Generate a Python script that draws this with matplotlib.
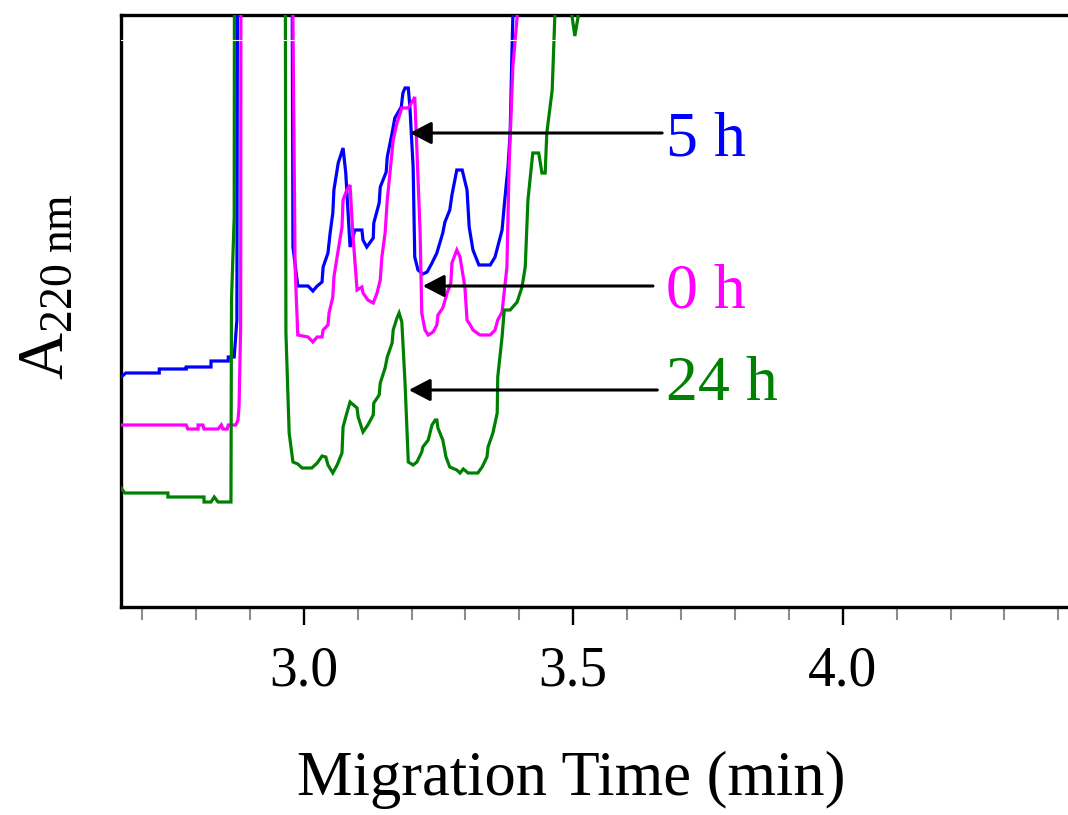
import matplotlib
matplotlib.use("Agg")
import matplotlib.pyplot as plt
from matplotlib.ticker import MultipleLocator, FormatStrFormatter

plt.rcParams["font.family"] = ["Liberation Serif", "DejaVu Serif"]
plt.rcParams["mathtext.fontset"] = "custom"
plt.rcParams["mathtext.rm"] = "Liberation Serif"
plt.rcParams["mathtext.it"] = "Liberation Serif:italic"

# electropherogram traces (time in min, absorbance in arbitrary units; 900 = off scale)
t_5h = [2.661, 2.670, 2.732, 2.732, 2.782, 2.782, 2.828, 2.828, 2.860, 2.860, 2.871, 2.876,
        2.878, 2.977, 2.980, 2.989, 3.008, 3.017, 3.025, 3.034, 3.036, 3.045, 3.049, 3.054,
        3.056, 3.064, 3.073, 3.078, 3.086, 3.095, 3.108, 3.110, 3.117, 3.129, 3.130, 3.140,
        3.142, 3.153, 3.155, 3.164, 3.169, 3.181, 3.184, 3.188, 3.194, 3.197, 3.203, 3.206,
        3.212, 3.221, 3.229, 3.238, 3.247, 3.258, 3.262, 3.271, 3.275, 3.284, 3.294, 3.303,
        3.307, 3.314, 3.325, 3.346, 3.355, 3.368, 3.373, 3.379, 3.383, 3.386, 3.388, 3.395]
a_5h = [230, 234, 234, 238, 238, 240, 240, 246, 246, 250, 250, 287,
        900, 900, 360, 321, 321, 316, 321, 325, 340, 354, 374, 394,
        417, 444, 459, 434, 360, 377, 377, 367, 360, 369, 384, 404,
        420, 435, 450, 474, 489, 500, 514, 519, 519, 500, 440, 350,
        337, 333, 335, 344, 354, 374, 385, 397, 412, 437, 437, 417,
        380, 357, 342, 342, 350, 377, 407, 440, 474, 547, 590, 900]

t_0h = [2.661, 2.782, 2.785, 2.804, 2.804, 2.813, 2.815, 2.841, 2.847, 2.850, 2.858, 2.860,
        2.874, 2.878, 2.880, 2.883, 2.884, 2.977, 2.980, 2.984, 2.989, 3.008, 3.017, 3.025,
        3.034, 3.036, 3.045, 3.047, 3.054, 3.056, 3.064, 3.071, 3.073, 3.080, 3.086, 3.091,
        3.099, 3.108, 3.110, 3.119, 3.129, 3.136, 3.142, 3.145, 3.151, 3.155, 3.160, 3.166,
        3.173, 3.182, 3.194, 3.201, 3.206, 3.210, 3.216, 3.219, 3.225, 3.231, 3.240, 3.247,
        3.249, 3.258, 3.266, 3.273, 3.275, 3.284, 3.290, 3.299, 3.303, 3.309, 3.314, 3.327,
        3.346, 3.355, 3.360, 3.368, 3.377, 3.381, 3.388, 3.396, 3.400]
a_0h = [182, 182, 178, 178, 182, 182, 178, 178, 182, 178, 178, 182,
        182, 187, 200, 280, 900, 900, 590, 340, 272, 270, 265, 270,
        270, 277, 282, 294, 310, 330, 357, 380, 407, 417, 422, 374,
        317, 320, 314, 307, 304, 314, 327, 350, 374, 407, 434, 467,
        484, 499, 499, 505, 510, 457, 374, 294, 277, 272, 275, 282,
        292, 299, 314, 324, 344, 357, 350, 320, 287, 282, 277, 272,
        272, 277, 287, 295, 340, 440, 540, 590, 900]

t_24h = [2.661, 2.668, 2.748, 2.748, 2.815, 2.815, 2.828, 2.834, 2.841, 2.865, 2.866, 2.871,
         2.872, 2.965, 2.967, 2.973, 2.980, 2.989, 2.997, 3.015, 3.025, 3.034, 3.041, 3.045,
         3.054, 3.062, 3.071, 3.073, 3.080, 3.086, 3.099, 3.101, 3.110, 3.119, 3.129, 3.130,
         3.140, 3.142, 3.151, 3.155, 3.164, 3.166, 3.173, 3.177, 3.182, 3.188, 3.194, 3.203,
         3.210, 3.219, 3.221, 3.231, 3.238, 3.244, 3.247, 3.249, 3.258, 3.264, 3.271, 3.284,
         3.290, 3.296, 3.305, 3.323, 3.331, 3.340, 3.342, 3.351, 3.359, 3.360, 3.368, 3.372,
         3.383, 3.396, 3.405, 3.411, 3.416, 3.425, 3.436, 3.442, 3.448, 3.451, 3.461, 3.466,
         3.470, 3.495, 3.498, 3.503, 3.509, 3.515]
a_24h = [119, 114, 114, 110, 110, 105, 105, 110, 105, 105, 307, 390,
         900, 900, 274, 174, 145, 143, 139, 139, 144, 151, 150, 142,
         134, 142, 154, 180, 194, 205, 199, 190, 175, 182, 192, 204,
         212, 224, 239, 250, 264, 277, 289, 294, 285, 224, 145, 142,
         145, 155, 160, 167, 182, 187, 187, 179, 167, 150, 140, 137,
         134, 138, 134, 134, 140, 150, 160, 174, 194, 230, 270, 297,
         297, 305, 320, 340, 407, 454, 454, 434, 434, 474, 517, 592,
         900, 900, 590, 571, 590, 900]

series_labels = ["5 h", "0 h", "24 h"]
series_colors = ["#0000FF", "#FF00FF", "#008000"]
# arrow tip (t, a), arrow tail t, label baseline a
arrow_tip_t = [3.197, 3.221, 3.195]
arrow_tip_a = [474, 321, 217]
arrow_tail_t = [3.665, 3.648, 3.656]
label_t = 3.672
label_a = [452, 300, 207]

fig = plt.figure(figsize=(10.68, 8.15), dpi=100)
fig.patch.set_facecolor("white")
ax = fig.add_axes([121 / 1068, 1 - 607 / 815, (1068 - 121) / 1068, (607 - 15) / 815])
ax.set_xlim(2.661, 4.418)
ax.set_ylim(0, 592)

for t, a, c in zip([t_5h, t_0h, t_24h], [a_5h, a_0h, a_24h], series_colors):
    ax.plot(t, a, color=c, lw=2.3, solid_joinstyle="miter", zorder=3)

# faint scan artefact line near top
ax.axhline(567, color="white", lw=0.8, zorder=4)

for i in range(3):
    ax.annotate("", xy=(arrow_tip_t[i], arrow_tip_a[i]),
                xytext=(arrow_tail_t[i], arrow_tip_a[i]),
                arrowprops=dict(arrowstyle="-|>,head_length=1.3,head_width=0.68",
                                mutation_scale=10, lw=2.2, color="black",
                                shrinkA=0, shrinkB=0), zorder=5)
    ax.text(label_t, label_a[i], series_labels[i], color=series_colors[i],
            fontsize=46, ha="left", va="baseline")

for s in ["left", "top", "bottom"]:
    ax.spines[s].set_linewidth(2.4)
    ax.spines[s].set_color("black")
ax.spines["right"].set_visible(False)

ax.set_yticks([])
ax.xaxis.set_major_locator(MultipleLocator(0.5))
ax.xaxis.set_minor_locator(MultipleLocator(0.1))
ax.xaxis.set_major_formatter(FormatStrFormatter("%.1f"))
ax.tick_params(axis="x", which="major", direction="out", length=13, width=1.7,
               color="black", labelsize=40, pad=15)
ax.tick_params(axis="x", which="minor", direction="out", length=9, width=1.5,
               color="#8c8c8c")

fig.text(571 / 1068, 1 - 795 / 815, "Migration Time (min)", fontsize=45,
         ha="center", va="baseline")
fig.text(47 / 1068, 1 - 287 / 815, r"A$_{\rm 220\ nm}$", fontsize=47,
         rotation=90, ha="center", va="center")

fig.savefig("out.png", dpi=100, facecolor="white")
